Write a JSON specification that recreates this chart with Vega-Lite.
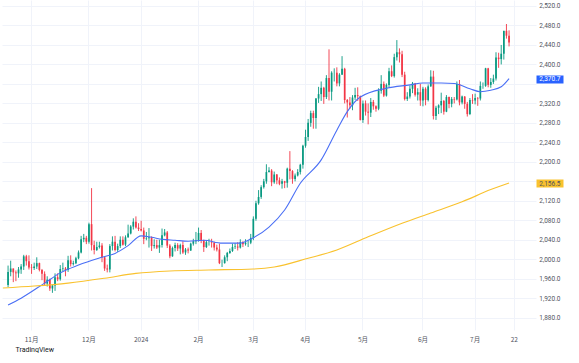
{
  "$schema": "https://vega.github.io/schema/vega-lite/v6.json",
  "width": 534,
  "height": 330,
  "padding": 0,
  "background": "white",
  "view": {"stroke": null},
  "resolve": {"axis": {"y": "independent"}},
  "datasets": {
    "candles": [
      {"d":"2023-10-19","o":1947,"h":1987,"l":1943,"c":1974},
      {"d":"2023-10-20","o":1974,"h":1997,"l":1965,"c":1981},
      {"d":"2023-10-23","o":1981,"h":1981,"l":1953,"c":1973},
      {"d":"2023-10-24","o":1973,"h":1977,"l":1955,"c":1971},
      {"d":"2023-10-25","o":1971,"h":1984,"l":1962,"c":1979},
      {"d":"2023-10-26","o":1979,"h":1990,"l":1970,"c":1985},
      {"d":"2023-10-27","o":1985,"h":2009,"l":1978,"c":2006},
      {"d":"2023-10-30","o":2006,"h":2009,"l":1987,"c":1996},
      {"d":"2023-10-31","o":1996,"h":2008,"l":1979,"c":1983},
      {"d":"2023-11-01","o":1983,"h":1990,"l":1970,"c":1982},
      {"d":"2023-11-02","o":1982,"h":1993,"l":1978,"c":1985},
      {"d":"2023-11-03","o":1985,"h":2004,"l":1980,"c":1992},
      {"d":"2023-11-06","o":1992,"h":1993,"l":1975,"c":1978},
      {"d":"2023-11-07","o":1978,"h":1980,"l":1957,"c":1970},
      {"d":"2023-11-08","o":1970,"h":1975,"l":1947,"c":1950},
      {"d":"2023-11-09","o":1950,"h":1965,"l":1944,"c":1958},
      {"d":"2023-11-10","o":1958,"h":1960,"l":1935,"c":1940},
      {"d":"2023-11-13","o":1940,"h":1948,"l":1931,"c":1946},
      {"d":"2023-11-14","o":1946,"h":1971,"l":1935,"c":1963},
      {"d":"2023-11-15","o":1963,"h":1971,"l":1955,"c":1959},
      {"d":"2023-11-16","o":1959,"h":1988,"l":1956,"c":1980},
      {"d":"2023-11-17","o":1980,"h":1993,"l":1975,"c":1981},
      {"d":"2023-11-20","o":1981,"h":1984,"l":1965,"c":1978},
      {"d":"2023-11-21","o":1978,"h":2007,"l":1974,"c":1998},
      {"d":"2023-11-22","o":1998,"h":2008,"l":1985,"c":1990},
      {"d":"2023-11-23","o":1990,"h":1997,"l":1987,"c":1992},
      {"d":"2023-11-24","o":1992,"h":2005,"l":1990,"c":2002},
      {"d":"2023-11-27","o":2002,"h":2018,"l":2000,"c":2014},
      {"d":"2023-11-28","o":2014,"h":2048,"l":2012,"c":2041},
      {"d":"2023-11-29","o":2041,"h":2052,"l":2035,"c":2044},
      {"d":"2023-11-30","o":2044,"h":2048,"l":2031,"c":2036},
      {"d":"2023-12-01","o":2036,"h":2075,"l":2032,"c":2072},
      {"d":"2023-12-04","o":2072,"h":2146,"l":2018,"c":2029},
      {"d":"2023-12-05","o":2029,"h":2038,"l":2010,"c":2019},
      {"d":"2023-12-06","o":2019,"h":2036,"l":2017,"c":2025},
      {"d":"2023-12-07","o":2025,"h":2036,"l":2022,"c":2028},
      {"d":"2023-12-08","o":2028,"h":2033,"l":1994,"c":2004},
      {"d":"2023-12-11","o":2004,"h":2006,"l":1976,"c":1981},
      {"d":"2023-12-12","o":1981,"h":1989,"l":1973,"c":1979},
      {"d":"2023-12-13","o":1979,"h":2031,"l":1973,"c":2027},
      {"d":"2023-12-14","o":2027,"h":2047,"l":2018,"c":2036},
      {"d":"2023-12-15","o":2036,"h":2048,"l":2016,"c":2019},
      {"d":"2023-12-18","o":2019,"h":2032,"l":2015,"c":2027},
      {"d":"2023-12-19","o":2027,"h":2047,"l":2023,"c":2040},
      {"d":"2023-12-20","o":2040,"h":2047,"l":2028,"c":2030},
      {"d":"2023-12-21","o":2030,"h":2049,"l":2027,"c":2045},
      {"d":"2023-12-22","o":2045,"h":2071,"l":2044,"c":2053},
      {"d":"2023-12-26","o":2053,"h":2070,"l":2051,"c":2067},
      {"d":"2023-12-27","o":2067,"h":2084,"l":2061,"c":2077},
      {"d":"2023-12-28","o":2077,"h":2088,"l":2063,"c":2065},
      {"d":"2023-12-29","o":2065,"h":2074,"l":2058,"c":2062},
      {"d":"2024-01-02","o":2062,"h":2079,"l":2057,"c":2059},
      {"d":"2024-01-03","o":2059,"h":2065,"l":2031,"c":2042},
      {"d":"2024-01-04","o":2042,"h":2056,"l":2039,"c":2043},
      {"d":"2024-01-05","o":2043,"h":2064,"l":2024,"c":2045},
      {"d":"2024-01-08","o":2045,"h":2047,"l":2017,"c":2027},
      {"d":"2024-01-09","o":2027,"h":2041,"l":2022,"c":2029},
      {"d":"2024-01-10","o":2029,"h":2040,"l":2021,"c":2024},
      {"d":"2024-01-11","o":2024,"h":2040,"l":2013,"c":2029},
      {"d":"2024-01-12","o":2029,"h":2063,"l":2024,"c":2049},
      {"d":"2024-01-15","o":2049,"h":2062,"l":2047,"c":2055},
      {"d":"2024-01-16","o":2055,"h":2058,"l":2023,"c":2028},
      {"d":"2024-01-17","o":2028,"h":2031,"l":2002,"c":2006},
      {"d":"2024-01-18","o":2006,"h":2026,"l":2005,"c":2023},
      {"d":"2024-01-19","o":2023,"h":2034,"l":2016,"c":2029},
      {"d":"2024-01-22","o":2029,"h":2033,"l":2017,"c":2022},
      {"d":"2024-01-23","o":2022,"h":2032,"l":2010,"c":2029},
      {"d":"2024-01-24","o":2029,"h":2037,"l":2011,"c":2014},
      {"d":"2024-01-25","o":2014,"h":2023,"l":2009,"c":2020},
      {"d":"2024-01-26","o":2020,"h":2024,"l":2012,"c":2018},
      {"d":"2024-01-29","o":2018,"h":2034,"l":2017,"c":2032},
      {"d":"2024-01-30","o":2032,"h":2042,"l":2028,"c":2037},
      {"d":"2024-01-31","o":2037,"h":2056,"l":2031,"c":2039},
      {"d":"2024-02-01","o":2039,"h":2065,"l":2036,"c":2054},
      {"d":"2024-02-02","o":2054,"h":2060,"l":2033,"c":2039},
      {"d":"2024-02-05","o":2039,"h":2040,"l":2015,"c":2025},
      {"d":"2024-02-06","o":2025,"h":2039,"l":2023,"c":2035},
      {"d":"2024-02-07","o":2035,"h":2042,"l":2028,"c":2035},
      {"d":"2024-02-08","o":2035,"h":2042,"l":2024,"c":2034},
      {"d":"2024-02-09","o":2034,"h":2036,"l":2018,"c":2024},
      {"d":"2024-02-12","o":2024,"h":2030,"l":2016,"c":2020},
      {"d":"2024-02-13","o":2020,"h":2032,"l":1990,"c":1992},
      {"d":"2024-02-14","o":1992,"h":1999,"l":1984,"c":1992},
      {"d":"2024-02-15","o":1992,"h":2008,"l":1991,"c":2004},
      {"d":"2024-02-16","o":2004,"h":2015,"l":1996,"c":2013},
      {"d":"2024-02-19","o":2013,"h":2022,"l":2011,"c":2017},
      {"d":"2024-02-20","o":2017,"h":2032,"l":2015,"c":2025},
      {"d":"2024-02-21","o":2025,"h":2033,"l":2021,"c":2026},
      {"d":"2024-02-22","o":2026,"h":2035,"l":2018,"c":2024},
      {"d":"2024-02-23","o":2024,"h":2041,"l":2022,"c":2035},
      {"d":"2024-02-26","o":2035,"h":2037,"l":2025,"c":2031},
      {"d":"2024-02-27","o":2031,"h":2041,"l":2028,"c":2034},
      {"d":"2024-02-28","o":2034,"h":2039,"l":2025,"c":2034},
      {"d":"2024-02-29","o":2034,"h":2052,"l":2031,"c":2044},
      {"d":"2024-03-01","o":2044,"h":2088,"l":2039,"c":2083},
      {"d":"2024-03-04","o":2083,"h":2120,"l":2079,"c":2115},
      {"d":"2024-03-05","o":2115,"h":2142,"l":2112,"c":2128},
      {"d":"2024-03-06","o":2128,"h":2152,"l":2124,"c":2148},
      {"d":"2024-03-07","o":2148,"h":2165,"l":2145,"c":2160},
      {"d":"2024-03-08","o":2160,"h":2195,"l":2155,"c":2179},
      {"d":"2024-03-11","o":2179,"h":2189,"l":2178,"c":2182},
      {"d":"2024-03-12","o":2182,"h":2185,"l":2150,"c":2158},
      {"d":"2024-03-13","o":2158,"h":2180,"l":2155,"c":2174},
      {"d":"2024-03-14","o":2174,"h":2175,"l":2154,"c":2162},
      {"d":"2024-03-15","o":2162,"h":2168,"l":2152,"c":2155},
      {"d":"2024-03-18","o":2155,"h":2165,"l":2145,"c":2160},
      {"d":"2024-03-19","o":2160,"h":2161,"l":2146,"c":2157},
      {"d":"2024-03-20","o":2157,"h":2188,"l":2147,"c":2186},
      {"d":"2024-03-21","o":2186,"h":2222,"l":2164,"c":2181},
      {"d":"2024-03-22","o":2181,"h":2183,"l":2155,"c":2165},
      {"d":"2024-03-25","o":2165,"h":2176,"l":2160,"c":2172},
      {"d":"2024-03-26","o":2172,"h":2185,"l":2170,"c":2179},
      {"d":"2024-03-27","o":2179,"h":2196,"l":2174,"c":2194},
      {"d":"2024-03-28","o":2194,"h":2235,"l":2186,"c":2233},
      {"d":"2024-04-01","o":2233,"h":2266,"l":2229,"c":2251},
      {"d":"2024-04-02","o":2251,"h":2288,"l":2243,"c":2280},
      {"d":"2024-04-03","o":2280,"h":2305,"l":2272,"c":2300},
      {"d":"2024-04-04","o":2300,"h":2305,"l":2268,"c":2290},
      {"d":"2024-04-05","o":2290,"h":2331,"l":2268,"c":2330},
      {"d":"2024-04-08","o":2330,"h":2354,"l":2321,"c":2339},
      {"d":"2024-04-09","o":2339,"h":2365,"l":2325,"c":2352},
      {"d":"2024-04-10","o":2352,"h":2354,"l":2319,"c":2333},
      {"d":"2024-04-11","o":2333,"h":2378,"l":2329,"c":2372},
      {"d":"2024-04-12","o":2372,"h":2431,"l":2326,"c":2344},
      {"d":"2024-04-15","o":2344,"h":2386,"l":2326,"c":2383},
      {"d":"2024-04-16","o":2383,"h":2392,"l":2365,"c":2383},
      {"d":"2024-04-17","o":2383,"h":2394,"l":2355,"c":2361},
      {"d":"2024-04-18","o":2361,"h":2382,"l":2355,"c":2379},
      {"d":"2024-04-19","o":2379,"h":2417,"l":2379,"c":2391},
      {"d":"2024-04-22","o":2391,"h":2393,"l":2320,"c":2327},
      {"d":"2024-04-23","o":2327,"h":2329,"l":2291,"c":2322},
      {"d":"2024-04-24","o":2322,"h":2333,"l":2309,"c":2316},
      {"d":"2024-04-25","o":2316,"h":2337,"l":2306,"c":2332},
      {"d":"2024-04-26","o":2332,"h":2352,"l":2327,"c":2337},
      {"d":"2024-04-29","o":2337,"h":2353,"l":2325,"c":2335},
      {"d":"2024-04-30","o":2335,"h":2336,"l":2285,"c":2286},
      {"d":"2024-05-01","o":2286,"h":2326,"l":2280,"c":2320},
      {"d":"2024-05-02","o":2320,"h":2326,"l":2295,"c":2303},
      {"d":"2024-05-03","o":2303,"h":2320,"l":2277,"c":2301},
      {"d":"2024-05-06","o":2301,"h":2331,"l":2292,"c":2323},
      {"d":"2024-05-07","o":2323,"h":2327,"l":2307,"c":2314},
      {"d":"2024-05-08","o":2314,"h":2316,"l":2303,"c":2309},
      {"d":"2024-05-09","o":2309,"h":2351,"l":2306,"c":2346},
      {"d":"2024-05-10","o":2346,"h":2378,"l":2340,"c":2360},
      {"d":"2024-05-13","o":2360,"h":2365,"l":2333,"c":2336},
      {"d":"2024-05-14","o":2336,"h":2361,"l":2334,"c":2358},
      {"d":"2024-05-15","o":2358,"h":2393,"l":2353,"c":2386},
      {"d":"2024-05-16","o":2386,"h":2398,"l":2374,"c":2376},
      {"d":"2024-05-17","o":2376,"h":2422,"l":2373,"c":2415},
      {"d":"2024-05-20","o":2415,"h":2450,"l":2408,"c":2425},
      {"d":"2024-05-21","o":2425,"h":2433,"l":2404,"c":2421},
      {"d":"2024-05-22","o":2421,"h":2428,"l":2374,"c":2379},
      {"d":"2024-05-23","o":2379,"h":2385,"l":2326,"c":2329},
      {"d":"2024-05-24","o":2329,"h":2343,"l":2325,"c":2334},
      {"d":"2024-05-27","o":2334,"h":2357,"l":2330,"c":2350},
      {"d":"2024-05-28","o":2350,"h":2364,"l":2341,"c":2361},
      {"d":"2024-05-29","o":2361,"h":2362,"l":2334,"c":2338},
      {"d":"2024-05-30","o":2338,"h":2351,"l":2326,"c":2343},
      {"d":"2024-05-31","o":2343,"h":2360,"l":2315,"c":2326},
      {"d":"2024-06-03","o":2326,"h":2354,"l":2314,"c":2350},
      {"d":"2024-06-04","o":2350,"h":2353,"l":2316,"c":2327},
      {"d":"2024-06-05","o":2327,"h":2359,"l":2324,"c":2355},
      {"d":"2024-06-06","o":2355,"h":2388,"l":2354,"c":2375},
      {"d":"2024-06-07","o":2375,"h":2387,"l":2287,"c":2294},
      {"d":"2024-06-10","o":2294,"h":2315,"l":2286,"c":2311},
      {"d":"2024-06-11","o":2311,"h":2318,"l":2298,"c":2316},
      {"d":"2024-06-12","o":2316,"h":2342,"l":2300,"c":2325},
      {"d":"2024-06-13","o":2325,"h":2327,"l":2297,"c":2303},
      {"d":"2024-06-14","o":2303,"h":2337,"l":2302,"c":2333},
      {"d":"2024-06-17","o":2333,"h":2334,"l":2310,"c":2319},
      {"d":"2024-06-18","o":2319,"h":2333,"l":2312,"c":2329},
      {"d":"2024-06-19","o":2329,"h":2333,"l":2320,"c":2328},
      {"d":"2024-06-20","o":2328,"h":2365,"l":2326,"c":2360},
      {"d":"2024-06-21","o":2360,"h":2368,"l":2316,"c":2322},
      {"d":"2024-06-24","o":2322,"h":2336,"l":2318,"c":2334},
      {"d":"2024-06-25","o":2334,"h":2335,"l":2309,"c":2319},
      {"d":"2024-06-26","o":2319,"h":2323,"l":2293,"c":2298},
      {"d":"2024-06-27","o":2298,"h":2331,"l":2296,"c":2327},
      {"d":"2024-06-28","o":2327,"h":2339,"l":2319,"c":2326},
      {"d":"2024-07-01","o":2326,"h":2340,"l":2318,"c":2331},
      {"d":"2024-07-02","o":2331,"h":2333,"l":2315,"c":2330},
      {"d":"2024-07-03","o":2330,"h":2365,"l":2326,"c":2356},
      {"d":"2024-07-04","o":2356,"h":2363,"l":2350,"c":2356},
      {"d":"2024-07-05","o":2356,"h":2393,"l":2354,"c":2392},
      {"d":"2024-07-08","o":2392,"h":2393,"l":2353,"c":2358},
      {"d":"2024-07-09","o":2358,"h":2372,"l":2352,"c":2364},
      {"d":"2024-07-10","o":2364,"h":2379,"l":2360,"c":2371},
      {"d":"2024-07-11","o":2371,"h":2425,"l":2367,"c":2414},
      {"d":"2024-07-12","o":2414,"h":2424,"l":2393,"c":2411},
      {"d":"2024-07-15","o":2411,"h":2440,"l":2400,"c":2422},
      {"d":"2024-07-16","o":2422,"h":2469,"l":2410,"c":2469},
      {"d":"2024-07-17","o":2469,"h":2483,"l":2453,"c":2459},
      {"d":"2024-07-18","o":2459,"h":2470,"l":2437,"c":2445}
    ],
    "ma": [
      {"d":"2023-10-19","m":"fast","v":1906},
      {"d":"2023-10-26","m":"fast","v":1920},
      {"d":"2023-11-08","m":"fast","v":1951},
      {"d":"2023-11-16","m":"fast","v":1972},
      {"d":"2023-11-27","m":"fast","v":1988},
      {"d":"2023-12-08","m":"fast","v":2004},
      {"d":"2023-12-15","m":"fast","v":2012},
      {"d":"2023-12-22","m":"fast","v":2028},
      {"d":"2024-01-02","m":"fast","v":2048},
      {"d":"2024-01-08","m":"fast","v":2045},
      {"d":"2024-01-12","m":"fast","v":2041},
      {"d":"2024-01-19","m":"fast","v":2039},
      {"d":"2024-01-26","m":"fast","v":2037},
      {"d":"2024-02-05","m":"fast","v":2039},
      {"d":"2024-02-14","m":"fast","v":2033},
      {"d":"2024-02-23","m":"fast","v":2033},
      {"d":"2024-02-28","m":"fast","v":2039},
      {"d":"2024-03-11","m":"fast","v":2066},
      {"d":"2024-03-19","m":"fast","v":2101},
      {"d":"2024-03-27","m":"fast","v":2156},
      {"d":"2024-04-09","m":"fast","v":2204},
      {"d":"2024-04-17","m":"fast","v":2265},
      {"d":"2024-04-23","m":"fast","v":2303},
      {"d":"2024-04-30","m":"fast","v":2333},
      {"d":"2024-05-14","m":"fast","v":2351},
      {"d":"2024-05-27","m":"fast","v":2358},
      {"d":"2024-06-03","m":"fast","v":2362},
      {"d":"2024-06-12","m":"fast","v":2362},
      {"d":"2024-06-19","m":"fast","v":2361},
      {"d":"2024-06-27","m":"fast","v":2350},
      {"d":"2024-07-03","m":"fast","v":2344},
      {"d":"2024-07-09","m":"fast","v":2347},
      {"d":"2024-07-15","m":"fast","v":2354},
      {"d":"2024-07-18","m":"fast","v":2370.7},
      {"d":"2023-10-17","m":"slow","v":1941},
      {"d":"2023-11-02","m":"slow","v":1945},
      {"d":"2023-11-21","m":"slow","v":1951},
      {"d":"2023-12-11","m":"slow","v":1961},
      {"d":"2023-12-28","m":"slow","v":1971},
      {"d":"2024-01-17","m":"slow","v":1976},
      {"d":"2024-02-07","m":"slow","v":1978},
      {"d":"2024-03-01","m":"slow","v":1980},
      {"d":"2024-03-13","m":"slow","v":1984},
      {"d":"2024-04-02","m":"slow","v":2002},
      {"d":"2024-04-17","m":"slow","v":2019},
      {"d":"2024-05-03","m":"slow","v":2046},
      {"d":"2024-05-22","m":"slow","v":2074},
      {"d":"2024-06-06","m":"slow","v":2095},
      {"d":"2024-06-24","m":"slow","v":2118},
      {"d":"2024-07-09","m":"slow","v":2143},
      {"d":"2024-07-18","m":"slow","v":2156.5}
    ]
  },
  "encoding": {
    "x": {
      "field": "d",
      "type": "ordinal",
      "scale": {
        "paddingInner": 0.35,
        "paddingOuter": 0,
        "domain": ["2023-10-17","2023-10-18","2023-10-19","2023-10-20","2023-10-23","2023-10-24","2023-10-25","2023-10-26","2023-10-27","2023-10-30","2023-10-31",
          "2023-11-01","2023-11-02","2023-11-03","2023-11-06","2023-11-07","2023-11-08","2023-11-09","2023-11-10","2023-11-13","2023-11-14","2023-11-15","2023-11-16","2023-11-17","2023-11-20","2023-11-21","2023-11-22","2023-11-23","2023-11-24","2023-11-27","2023-11-28","2023-11-29","2023-11-30",
          "2023-12-01","2023-12-04","2023-12-05","2023-12-06","2023-12-07","2023-12-08","2023-12-11","2023-12-12","2023-12-13","2023-12-14","2023-12-15","2023-12-18","2023-12-19","2023-12-20","2023-12-21","2023-12-22","2023-12-26","2023-12-27","2023-12-28","2023-12-29",
          "2024-01-02","2024-01-03","2024-01-04","2024-01-05","2024-01-08","2024-01-09","2024-01-10","2024-01-11","2024-01-12","2024-01-15","2024-01-16","2024-01-17","2024-01-18","2024-01-19","2024-01-22","2024-01-23","2024-01-24","2024-01-25","2024-01-26","2024-01-29","2024-01-30","2024-01-31",
          "2024-02-01","2024-02-02","2024-02-05","2024-02-06","2024-02-07","2024-02-08","2024-02-09","2024-02-12","2024-02-13","2024-02-14","2024-02-15","2024-02-16","2024-02-19","2024-02-20","2024-02-21","2024-02-22","2024-02-23","2024-02-26","2024-02-27","2024-02-28","2024-02-29",
          "2024-03-01","2024-03-04","2024-03-05","2024-03-06","2024-03-07","2024-03-08","2024-03-11","2024-03-12","2024-03-13","2024-03-14","2024-03-15","2024-03-18","2024-03-19","2024-03-20","2024-03-21","2024-03-22","2024-03-25","2024-03-26","2024-03-27","2024-03-28",
          "2024-04-01","2024-04-02","2024-04-03","2024-04-04","2024-04-05","2024-04-08","2024-04-09","2024-04-10","2024-04-11","2024-04-12","2024-04-15","2024-04-16","2024-04-17","2024-04-18","2024-04-19","2024-04-22","2024-04-23","2024-04-24","2024-04-25","2024-04-26","2024-04-29","2024-04-30",
          "2024-05-01","2024-05-02","2024-05-03","2024-05-06","2024-05-07","2024-05-08","2024-05-09","2024-05-10","2024-05-13","2024-05-14","2024-05-15","2024-05-16","2024-05-17","2024-05-20","2024-05-21","2024-05-22","2024-05-23","2024-05-24","2024-05-27","2024-05-28","2024-05-29","2024-05-30","2024-05-31",
          "2024-06-03","2024-06-04","2024-06-05","2024-06-06","2024-06-07","2024-06-10","2024-06-11","2024-06-12","2024-06-13","2024-06-14","2024-06-17","2024-06-18","2024-06-19","2024-06-20","2024-06-21","2024-06-24","2024-06-25","2024-06-26","2024-06-27","2024-06-28",
          "2024-07-01","2024-07-02","2024-07-03","2024-07-04","2024-07-05","2024-07-08","2024-07-09","2024-07-10","2024-07-11","2024-07-12","2024-07-15","2024-07-16","2024-07-17","2024-07-18","2024-07-19","2024-07-22","2024-07-23","2024-07-24","2024-07-25","2024-07-26","2024-07-29","2024-07-30","2024-07-31",
          "2024-08-01"]
      },
      "axis": {
        "values": ["2023-11-01","2023-12-01","2024-01-02","2024-02-01","2024-03-01","2024-04-01","2024-05-01","2024-06-03","2024-07-01","2024-07-22"],
        "labelExpr": "datum.value == '2024-01-02' ? '2024' : datum.value == '2024-07-22' ? '22' : toNumber(substring(datum.value, 5, 7)) + '月'",
        "bandPosition": 0.5,
        "grid": true,
        "gridColor": "#f0f3fa",
        "gridWidth": 1,
        "domain": false,
        "ticks": false,
        "labelAngle": 0,
        "labelPadding": 6,
        "labelFont": "Noto Sans CJK JP",
        "labelFontSize": 6.5,
        "labelColor": "#50535e",
        "title": "TradingView",
        "titleAnchor": "start",
        "titleAlign": "left",
        "titleX": 13,
        "titleFont": "Roboto",
        "titleFontSize": 7,
        "titleFontWeight": "normal",
        "titleColor": "#131722",
        "titlePadding": 3
      }
    }
  },
  "layer": [
    {
      "data": {"name": "candles"},
      "mark": {"type": "rule", "strokeWidth": 0.9},
      "encoding": {
        "y": {
          "field": "l",
          "type": "quantitative",
          "title": null,
          "scale": {"domain": [1854.7, 2532.3], "nice": false, "zero": false},
          "axis": {
            "orient": "right",
            "values": [1880,1920,1960,2000,2040,2080,2120,2160,2200,2240,2280,2320,2360,2400,2440,2480,2520,2156.5,2370.7],
            "format": ",.1f",
            "domain": false,
            "grid": true,
            "gridColor": {"condition": {"test": "datum.value == 2156.5 || datum.value == 2370.7", "value": "transparent"}, "value": "#f0f3fa"},
            "ticks": true,
            "tickSize": 27,
            "tickWidth": {"condition": {"test": "datum.value == 2156.5 || datum.value == 2370.7", "value": 8}, "value": 0},
            "tickColor": {"condition": {"test": "datum.value == 2370.7", "value": "#2962ff"}, "value": "#f9c22e"},
            "labelAlign": "right",
            "labelBaseline": "middle",
            "labelPadding": -3,
            "labelFont": "Roboto",
            "labelFontSize": 6.5,
            "labelColor": {"condition": {"test": "datum.value == 2370.7", "value": "white"}, "value": "#50535e"},
            "labelOpacity": {"condition": {"test": "datum.value == 2160 || datum.value == 2360", "value": 0}, "value": 1},
            "labelOverlap": false,
            "labelFlush": false,
            "labelBound": false,
            "title": null
          }
        },
        "y2": {"field": "h"},
        "color": {
          "condition": {"test": "datum.c >= datum.o", "value": "#089981"},
          "value": "#f23645"
        }
      }
    },
    {
      "data": {"name": "candles"},
      "mark": {"type": "bar"},
      "encoding": {
        "y": {"field": "o", "type": "quantitative", "title": null, "axis": null},
        "y2": {"field": "c"},
        "color": {
          "condition": {"test": "datum.c >= datum.o", "value": "#089981"},
          "value": "#f23645"
        }
      }
    },
    {
      "data": {"name": "ma"},
      "mark": {"type": "line", "strokeWidth": 1.1, "interpolate": "monotone"},
      "encoding": {
        "y": {"field": "v", "type": "quantitative", "title": null, "axis": null},
        "color": {
          "field": "m",
          "type": "nominal",
          "scale": {"domain": ["fast", "slow"], "range": ["#4a6ff5", "#f9c22e"]},
          "legend": null
        }
      }
    }
  ]
}
